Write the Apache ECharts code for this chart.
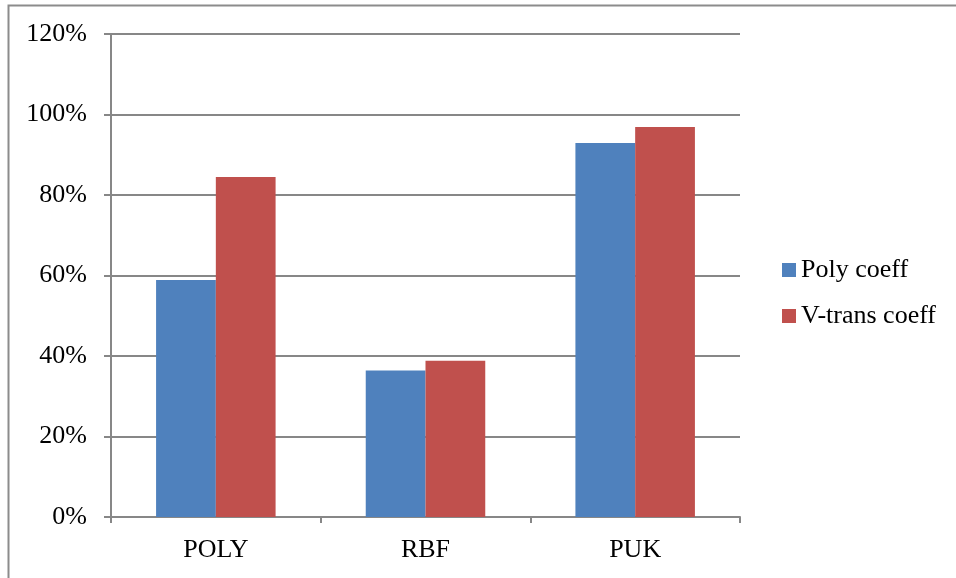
<!DOCTYPE html>
<html>
<head>
<meta charset="utf-8">
<script src="https://cdn.jsdelivr.net/npm/echarts@6/dist/echarts.min.js"></script>
<style>
  html, body { margin: 0; padding: 0; background: #ffffff; }
  #chart { width: 956px; height: 578px; }
</style>
</head>
<body>
<div id="chart"></div>
<script>
// Kernel categories and the accuracy of each coefficient type (fractions of 1)
const categories = ['POLY', 'RBF', 'PUK'];
const polyCoeff = [0.589, 0.364, 0.929];
const vTransCoeff = [0.845, 0.388, 0.969];
const seriesNames = ['Poly coeff', 'V-trans coeff'];
const yTicks = { min: 0, max: 1.2, step: 0.2 };

const font = '"Liberation Serif", "DejaVu Serif", serif';
const axisGray = '#878787';

const chart = echarts.init(document.getElementById('chart'));
chart.setOption({
  animation: false,
  backgroundColor: '#ffffff',
  textStyle: { fontFamily: font },
  graphic: [{
    type: 'rect',
    shape: { x: 8.5, y: 5.5, width: 1200, height: 1200 },
    style: { fill: 'none', stroke: '#8c8c8c', lineWidth: 2 },
    silent: true
  }],
  grid: { left: 111, right: 216, top: 34, bottom: 61, containLabel: false },
  legend: {
    orient: 'vertical',
    left: 782,
    top: 257,
    padding: 0,
    itemWidth: 14,
    itemHeight: 14,
    itemGap: 20,
    icon: 'rect',
    textStyle: { fontFamily: font, fontSize: 26, color: '#000000' },
    data: seriesNames
  },
  xAxis: {
    type: 'category',
    data: categories,
    boundaryGap: true,
    axisLine: { show: true, lineStyle: { color: axisGray, width: 2 } },
    axisTick: { show: true, alignWithLabel: false, length: 6, lineStyle: { color: axisGray, width: 2 } },
    axisLabel: { fontFamily: font, fontSize: 26, color: '#000000', margin: 20 },
    splitLine: { show: false }
  },
  yAxis: {
    type: 'value',
    min: yTicks.min,
    max: yTicks.max,
    interval: yTicks.step,
    axisLine: { show: true, lineStyle: { color: axisGray, width: 2 } },
    axisTick: { show: true, length: 7, lineStyle: { color: axisGray, width: 2 } },
    axisLabel: {
      fontFamily: font, fontSize: 26, color: '#000000', margin: 24,
      formatter: v => Math.round(v * 100) + '%'
    },
    splitLine: { show: true, lineStyle: { color: axisGray, width: 2 } }
  },
  series: [
    {
      name: seriesNames[0],
      type: 'bar',
      data: polyCoeff,
      barGap: '0%',
      barCategoryGap: '43%',
      itemStyle: { color: '#4F81BD' }
    },
    {
      name: seriesNames[1],
      type: 'bar',
      data: vTransCoeff,
      barGap: '0%',
      barCategoryGap: '43%',
      itemStyle: { color: '#C0504D' }
    }
  ]
});
</script>
</body>
</html>
